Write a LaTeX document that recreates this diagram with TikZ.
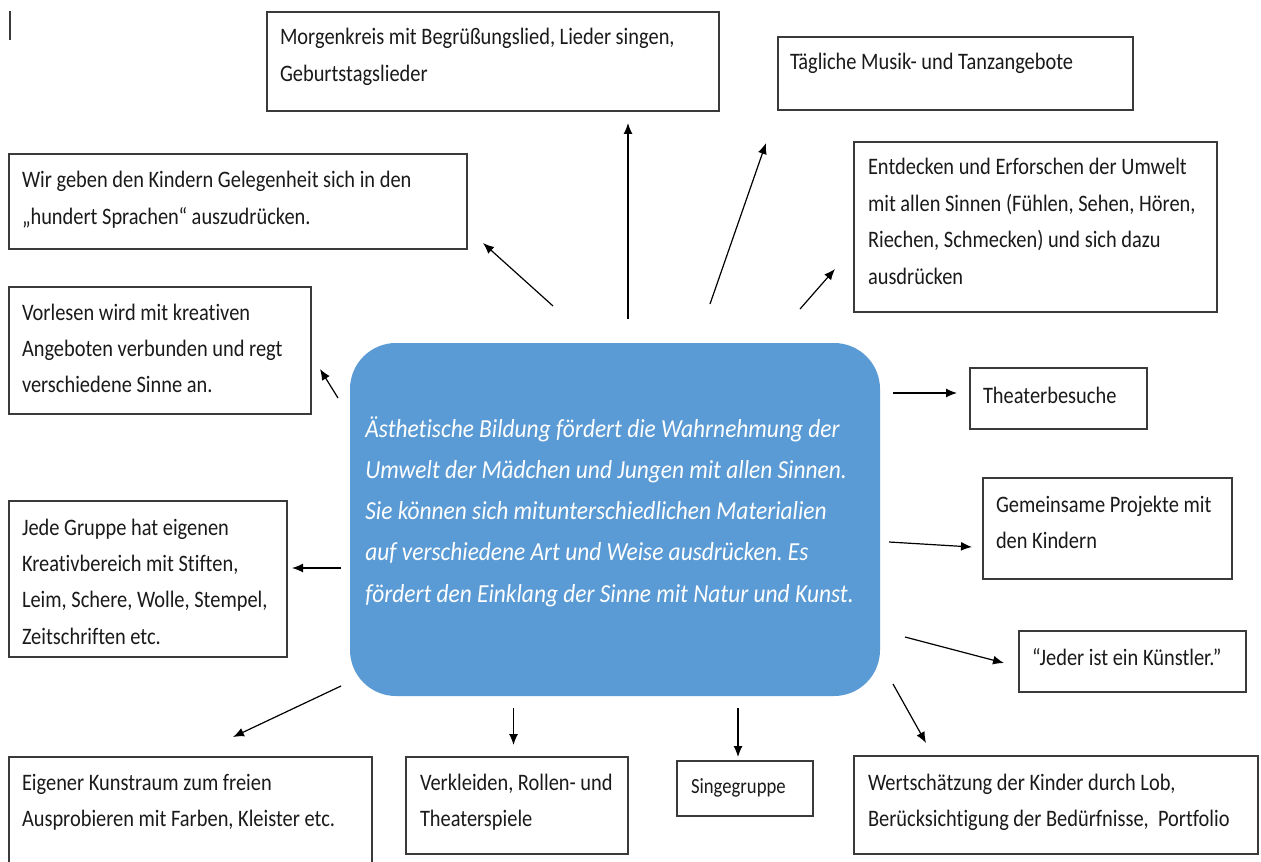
\documentclass[tikz,border=0pt]{standalone}
\usepackage{fontspec}
\setmainfont{Carlito}[FakeStretch=0.865, Ligatures={NoCommon}]
\newfontfamily\centerfont{Carlito}[FakeStretch=0.9, Ligatures={NoCommon}]
\usetikzlibrary{arrows.meta}
\definecolor{boxline}{HTML}{3A3A3A}
\definecolor{cblue}{HTML}{5B9BD5}
\definecolor{txtc}{HTML}{1A1A1A}
\newcommand\mybox[8]{%
  \node[box, minimum width={(#4-#2)*0.5pt}, minimum height={(#5-#3)*0.5pt}] (#1) at (#2,#3) {};
  \node[txt] (#1t) at (#6,#7) {\vtop{#8}};}
\newcommand\tl[1]{\hbox{#1}}
\frenchspacing
\begin{document}
\begin{tikzpicture}[x=0.5pt,y=-0.5pt,
  box/.style={draw=boxline, line width=0.75pt, anchor=north west, inner sep=0pt, outer sep=0pt},
  txt/.style={anchor=base west, inner sep=0pt, outer sep=0pt, text=txtc, font=\fontsize{11.8pt}{18.2pt}\selectfont},
  conn/.style={-{Latex[length=5.5pt,width=4.5pt]}, line width=0.6pt, black}]
\fill[white] (0,0) rectangle (1261,861);
\useasboundingbox (0,0) rectangle (1261,861);
\draw[line width=0.6pt, boxline] (10,11) -- (10,40);

% central box
\node[anchor=north west, fill=cblue, rounded corners=23pt, inner sep=0pt, outer sep=0pt,
      minimum width=265pt, minimum height=176.5pt] (center) at (350,343) {};
\node[anchor=base west, inner sep=0pt, text=white,
      font=\centerfont\fontsize{13pt}{20.65pt}\selectfont\itshape] (centert) at (365,437)
  {\vtop{\tl{Ästhetische Bildung fördert die Wahrnehmung der}
         \tl{Umwelt der Mädchen und Jungen mit allen Sinnen.}
         \tl{Sie können sich mitunterschiedlichen Materialien}
         \tl{auf verschiedene Art und Weise ausdrücken. Es}
         \tl{fördert den Einklang der Sinne mit Natur und Kunst.}}};

\mybox{morgen}{267}{12}{719}{111}{280}{45}{\tl{Morgenkreis mit Begrüßungslied, Lieder singen,}\tl{Geburtstagslieder}}
\mybox{taeg}{778}{37}{1133}{110}{790}{70}{\tl{Tägliche Musik- und Tanzangebote}}
\mybox{wir}{9}{154}{467}{249}{22}{188}{\tl{Wir geben den Kindern Gelegenheit sich in den}\tl{„hundert Sprachen“ auszudrücken.}}
\mybox{entd}{854}{142}{1217}{312}{868}{175}{\tl{Entdecken und Erforschen der Umwelt}\tl{mit allen Sinnen (Fühlen, Sehen, Hören,}\tl{Riechen, Schmecken) und sich dazu}\tl{ausdrücken}}
\mybox{vorl}{9}{287}{311}{414}{22}{320}{\tl{Vorlesen wird mit kreativen}\tl{Angeboten verbunden und regt}\tl{verschiedene Sinne an.}}
\mybox{theater}{970}{368}{1147}{429}{983}{403}{\tl{Theaterbesuche}}
\mybox{jede}{9}{501}{287}{657}{22}{535}{\tl{Jede Gruppe hat eigenen}\tl{Kreativbereich mit Stiften,}\tl{Leim, Schere, Wolle, Stempel,}\tl{Zeitschriften etc.}}
\mybox{gem}{983}{478}{1232}{579}{996}{512}{\tl{Gemeinsame Projekte mit}\tl{den Kindern}}
\mybox{jeder}{1019}{631}{1246}{692}{1032}{665}{\tl{“Jeder ist ein Künstler.”}}
\mybox{eig}{9}{757}{372}{872}{22}{790}{\tl{Eigener Kunstraum zum freien}\tl{Ausprobieren mit Farben, Kleister etc.}}
\mybox{verk}{406}{757}{628}{854}{420}{790}{\tl{Verkleiden, Rollen- und}\tl{Theaterspiele}}
\node[box, minimum width=68pt, minimum height=27.5pt] (singe) at (677,761) {};
\node[txt, font=\fontsize{10.8pt}{16pt}\selectfont] (singet) at (691,793) {Singegruppe};
\mybox{wert}{854}{756}{1258}{854}{868}{790}{\tl{Wertschätzung der Kinder durch Lob,}\tl{Berücksichtigung der Bedürfnisse,\ \ Portfolio}}

% connector end points
\coordinate (s1) at (553,306);  \coordinate (e1) at (483,243);
\coordinate (s2) at (628,319);  \coordinate (e2) at (628,123);
\coordinate (s3) at (338,398);  \coordinate (e3) at (320,369);
\coordinate (s4) at (710,304);  \coordinate (e4) at (766,143);
\coordinate (s5) at (800,309);  \coordinate (e5) at (835,269);
\coordinate (s6) at (893,393);  \coordinate (e6) at (957,393);
\coordinate (s7) at (341,568);  \coordinate (e7) at (292,568);
\coordinate (s8) at (341,686);  \coordinate (e8) at (233,737);
\coordinate (s9) at (513.5,708);  \coordinate (e9) at (513.5,745);
\coordinate (s10) at (738,708); \coordinate (e10) at (738,757);
\coordinate (s11) at (893,684); \coordinate (e11) at (926,743);
\coordinate (s12) at (905,637); \coordinate (e12) at (1004,663);
\coordinate (s13) at (889,542); \coordinate (e13) at (972,547);
\foreach \i in {1,...,13} {\draw[conn] (s\i) -- (e\i);}
\end{tikzpicture}
\end{document}
